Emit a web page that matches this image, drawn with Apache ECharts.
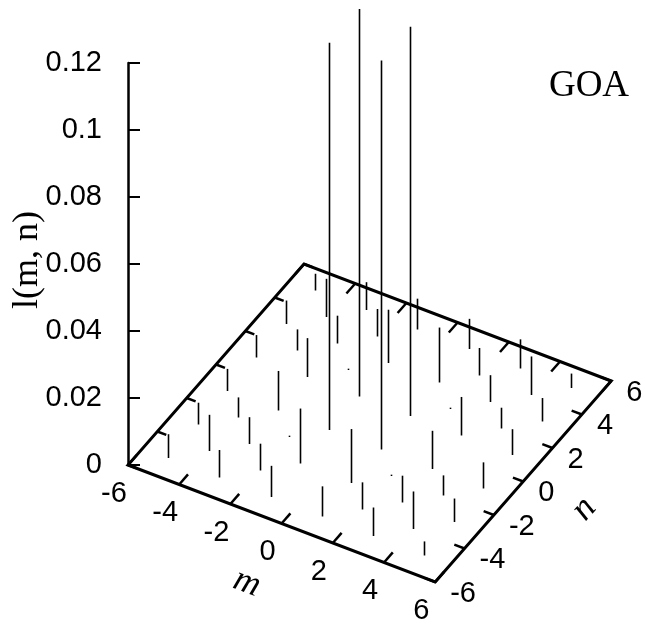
<!DOCTYPE html>
<html><head><meta charset="utf-8">
<script src="https://cdn.jsdelivr.net/npm/echarts@6/dist/echarts.min.js"></script>
<style>html,body{margin:0;padding:0;background:#fff}#c{width:645px;height:624px}</style>
</head><body><div id="c"></div>
<script>
// ---- data ----
const mValues = [-6,-5,-4,-3,-2,-1,0,1,2,3,4,5,6];
const nValues = [6,5,4,3,2,1,0,-1,-2,-3,-4,-5,-6];   // row order of intensityRows
const intensityRows = [
  [0,0,0,0,0,0,0,0,0,0,0,0,0],
  [0,0.0050,0,0.0083,0,0.0092,0,0.0090,0,0.0087,0,0.0043,0],
  [0,0,0.0114,0,0.0082,0,0,0,0.0082,0,0.0115,0,0],
  [0,0.0070,0,0.0083,0,0.0159,0,0.0164,0,0.0080,0,0.0070,0],
  [0,0,0.0063,0,0.0004,0,0,0,0.0004,0,0.0062,0,0],
  [0,0.0067,0,0.0116,0,0.1157,0,0.1162,0,0.0115,0,0.0077,0],
  [0,0,0,0,0,0,0,0,0,0,0,0,0],
  [0,0.0066,0,0.0118,0,0.1156,0,0.1161,0,0.0114,0,0.0078,0],
  [0,0,0.0060,0,0.0004,0,0,0,0.0004,0,0.0060,0,0],
  [0,0.0065,0,0.0080,0,0.0164,0,0.0161,0,0.0080,0,0.0070,0],
  [0,0,0.0108,0,0.0080,0,0,0,0.0081,0,0.0112,0,0],
  [0,0.0071,0,0.0082,0,0.0093,0,0.0090,0,0.0085,0,0.0042,0],
  [0,0,0,0,0,0,0,0,0,0,0,0,0]
];
const mTicks = [-6,-4,-2,0,2,4,6];
const nTicks = [-6,-4,-2,0,2,4,6];
const zTickInterval = 0.02;
const zMax = 0.12;
const zAxisTitle = 'l(m, n)';
const mAxisTitle = 'm';
const nAxisTitle = 'n';
const panelLabel = 'GOA';

// ---- projection (view of the 3D box onto the chart's x/y axes) ----
const M_MIN = -6, M_MAX = 6, N_MIN = -6, N_MAX = 6;
const VIEW = { mx: 1, nx: 0.573, my: -0.00291, ny: 0.0050 };
function proj(m, n, z) {
  const u = m - M_MIN, v = n - N_MIN;
  return [u * VIEW.mx + v * VIEW.nx, z + u * VIEW.my + v * VIEW.ny];
}

const impulseData = [];
nValues.forEach((n, i) => mValues.forEach((m, j) => {
  const z = intensityRows[i][j];
  if (z > 0) impulseData.push([m, n, z]);
}));

const BLACK = '#000';
const tickFont = '29px "Liberation Sans", Arial, sans-serif';

function seg(a, b, w) {
  return { type: 'line', shape: { x1: a[0], y1: a[1], x2: b[0], y2: b[1] },
           style: { stroke: BLACK, lineWidth: w, lineCap: 'butt' } };
}

const chart = echarts.init(document.getElementById('c'), null, { renderer: 'canvas' });
chart.setOption({
  animation: false,
  backgroundColor: '#fff',
  grid: { left: 128, top: 63, width: 512, height: 402, containLabel: false, outerBoundsMode: 'none' },
  xAxis: { type: 'value', min: 0, max: 20, show: false },
  yAxis: {
    type: 'value', min: 0, max: zMax, interval: zTickInterval, position: 'left',
    axisLine: { show: true, onZero: false, lineStyle: { color: BLACK, width: 2.5 } },
    axisTick: { show: true, inside: true, length: 12, lineStyle: { color: BLACK, width: 2 } },
    axisLabel: { color: BLACK, fontSize: 29, fontFamily: 'Liberation Sans', margin: 26 },
    splitLine: { show: false }
  },
  graphic: [
    { type: 'text', x: 28, y: 260, rotation: Math.PI / 2, style: { text: zAxisTitle, fill: BLACK,
      font: '36px "Liberation Serif", serif', align: 'center', verticalAlign: 'middle' } },
    { type: 'text', x: 589, y: 86, style: { text: panelLabel, fill: BLACK,
      font: '37px "Liberation Serif", serif', align: 'center', verticalAlign: 'middle' } },
    { type: 'text', x: 247, y: 583, rotation: -0.36, style: { text: mAxisTitle, fill: BLACK,
      font: 'italic 36px "Liberation Serif", serif', align: 'center', verticalAlign: 'middle' } },
    { type: 'text', x: 584, y: 509, rotation: 0.85, style: { text: nAxisTitle, fill: BLACK,
      font: 'italic 36px "Liberation Serif", serif', align: 'center', verticalAlign: 'middle' } }
  ],
  series: [
    {
      type: 'custom', name: 'impulses', coordinateSystem: 'cartesian2d', clip: false,
      data: impulseData, z: 2,
      renderItem(params, api) {
        const m = api.value(0), n = api.value(1), z = api.value(2);
        const a = api.coord(proj(m, n, 0)), b = api.coord(proj(m, n, z));
        const x = Math.round(a[0]) + 0.5;
        return seg([x, a[1]], [x, b[1]], 1.6);
      }
    },
    {
      type: 'custom', name: 'base', coordinateSystem: 'cartesian2d', clip: false,
      data: [[0, 0]], z: 3,
      renderItem(params, api) {
        const P = (m, n) => api.coord(proj(m, n, 0));
        const children = [];
        const A = P(M_MIN, N_MIN), B = P(M_MAX, N_MIN), C = P(M_MAX, N_MAX), D = P(M_MIN, N_MAX);
        children.push({ type: 'polygon', shape: { points: [A, B, C, D] },
          style: { fill: 'none', stroke: BLACK, lineWidth: 3, lineJoin: 'miter' } });
        mTicks.forEach(m => {
          children.push(seg(P(m, N_MIN), P(m, N_MIN + 0.6), 2.5));
          children.push(seg(P(m, N_MAX), P(m, N_MAX - 0.6), 2.5));
          const p = P(m, N_MIN);
          children.push({ type: 'text', x: p[0] - 14, y: p[1] + 29,
            style: { text: String(m), fill: BLACK, font: tickFont, align: 'center', verticalAlign: 'middle' } });
        });
        nTicks.forEach(n => {
          children.push(seg(P(M_MIN, n), P(M_MIN + 0.35, n), 2.5));
          children.push(seg(P(M_MAX, n), P(M_MAX - 0.4, n), 2.5));
          const p = P(M_MAX, n);
          children.push({ type: 'text', x: p[0] + 15, y: p[1] + 12,
            style: { text: String(n), fill: BLACK, font: tickFont, align: 'left', verticalAlign: 'middle' } });
        });
        return { type: 'group', children };
      }
    }
  ]
});
</script>
</body></html>
